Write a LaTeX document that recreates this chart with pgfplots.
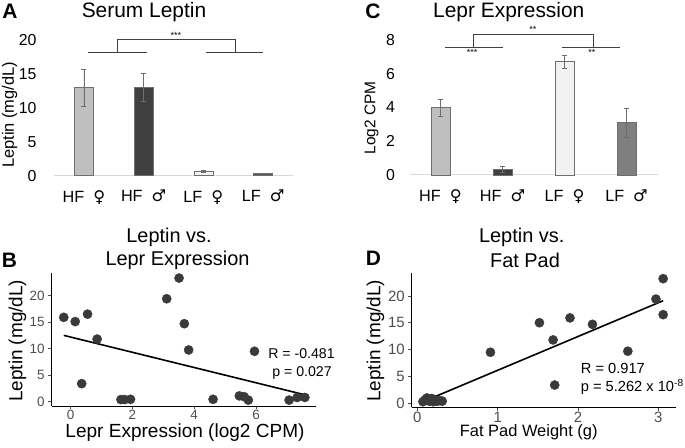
\documentclass[border=0pt]{standalone}
\usepackage{fontspec}
\setmainfont{Liberation Sans}
\newfontfamily\sym{DejaVu Sans}
\usepackage{pgfplots}
\pgfplotsset{compat=1.18}
\definecolor{c1}{HTML}{BFBFBF}
\definecolor{c2}{HTML}{404040}
\definecolor{c3}{HTML}{F2F2F2}
\definecolor{c4a}{HTML}{595959}
\definecolor{c4c}{HTML}{7F7F7F}
\definecolor{edge}{HTML}{6E6E6E}
\definecolor{ptc}{HTML}{3A3A3A}
\definecolor{tickgray}{HTML}{4D4D4D}
\definecolor{brk}{HTML}{404040}
\newcommand{\fs}[1]{\fontsize{#1}{#1}\selectfont}
\newcommand{\F}{\hspace{9bp}{\sym ♀}}
\newcommand{\M}{\hspace{9bp}{\sym ♂}}
\pgfplotsset{
  barax/.style={scale only axis, anchor=south west, xmin=0.5, xmax=4.5, ymin=0, clip=false,
    axis line style={draw=none}, major tick length=0pt, xtick={1,2,3,4},
    xticklabels={HF\F, HF\M, LF\F, LF\M},
    /pgf/number format/assume math mode=true,
    xticklabel style={font=\fs{16.3}, yshift=-11bp},
    yticklabel style={font=\fs{15.9}},
  },
  scat/.style={scale only axis, anchor=south west, axis x line*=bottom, axis y line*=left,
    axis line style={-, black, line width=0.8bp}, tick align=outside, major tick length=3.5bp,
    tick style={tickgray, line width=0.7bp}, ytick={0,5,10,15,20},
    /pgf/number format/assume math mode=true,
    tick label style={text=tickgray},
    xticklabel style={yshift=2.5bp},
  },
  mybar/.style={ybar, bar width=19bp, bar shift=0pt, fill=#1, draw=edge, line width=0.6bp,
    error bars/.cd, y dir=both, y explicit,
    error bar style={edge, line width=0.6bp},
    error mark options={rotate=90, mark size=2.6bp, edge, line width=0.6bp}},
}
\begin{document}
\begin{tikzpicture}[x=1bp,y=1bp]
\useasboundingbox (0,0) rectangle (685,448);
% ---------------- Panel A
\begin{axis}[barax, at={(54bp,272.3bp)}, width=239bp, height=149.2bp, ymax=22,
  ytick={0,5,10,15,20}, yticklabel style={xshift=-14bp}]
\draw[gray!30, line width=1bp] (axis cs:0.5,0) -- (axis cs:4.5,0);
\addplot[mybar=c1] coordinates {(1,13.0) +- (0,2.7)};
\addplot[mybar=c2] coordinates {(2,13.0) +- (0,2.1)};
\addplot[mybar=c3] coordinates {(3,0.65) +- (0,0.12)};
\addplot[mybar=c4a] coordinates {(4,0.35) +- (0,0.06)};
\draw[brk, line width=0.8bp] (axis cs:1.07,18.2) -- (axis cs:2.06,18.2);
\draw[brk, line width=0.8bp] (axis cs:3.04,18.2) -- (axis cs:4.0,18.2);
\draw[brk, line width=0.8bp] (axis cs:1.554,18.2) -- (axis cs:1.554,20.1) -- (axis cs:3.53,20.1) -- (axis cs:3.53,18.2);
\node[anchor=south, inner sep=1bp, font=\fs{9}] at (axis cs:2.54,20.1) {***};
\end{axis}
\node[font=\bfseries\fs{21}] at (10,437) {A};
\node[font=\fs{21}] at (144,435.5) {Serum Leptin};
\node[rotate=90, font=\fs{16.5}] at (9.5,333) {Leptin (mg/dL)};
% ---------------- Panel C
\begin{axis}[barax, at={(409.5bp,273bp)}, width=248bp, height=152.1bp, ymax=9,
  ytick={0,2,4,6,8}, yticklabel style={xshift=-11bp}]
\draw[gray!30, line width=1bp] (axis cs:0.5,0) -- (axis cs:4.5,0);
\addplot[mybar=c1] coordinates {(1,4.0) +- (0,0.5)};
\addplot[mybar=c2] coordinates {(2,0.34) +- (0,0.19)};
\addplot[mybar=c3] coordinates {(3,6.7) +- (0,0.4)};
\addplot[mybar=c4c] coordinates {(4,3.1) +- (0,0.87)};
\draw[brk, line width=0.8bp] (axis cs:1.07,7.55) -- (axis cs:2.01,7.55);
\draw[brk, line width=0.8bp] (axis cs:2.96,7.55) -- (axis cs:3.90,7.55);
\draw[brk, line width=0.8bp] (axis cs:1.524,7.55) -- (axis cs:1.524,8.34) -- (axis cs:3.46,8.34) -- (axis cs:3.46,7.55);
\node[anchor=south, inner sep=1bp, font=\fs{9}] at (axis cs:2.49,8.34) {**};
\node[anchor=north, inner sep=1.5bp, font=\fs{9}] at (axis cs:1.51,7.55) {***};
\node[anchor=north, inner sep=1.5bp, font=\fs{9}] at (axis cs:3.44,7.55) {**};
\end{axis}
\node[font=\bfseries\fs{21}] at (373,437) {C};
\node[font=\fs{21}] at (508.8,435.5) {Lepr Expression};
\node[rotate=90, font=\fs{15.5}] at (371.5,330) {Log2 CPM};
% ---------------- Panel B
\begin{axis}[scat, at={(51.7bp,42bp)}, width=264.3bp, height=132.7bp,
  xmin=-0.61, xmax=7.94, ymin=-0.81, ymax=24.2, xtick={0,2,4,6},
  tick label style={font=\fs{13.5}}]
\addplot[only marks, mark=*, mark size=4.6bp, mark options={fill=ptc, draw=ptc}] coordinates {
(-0.22,15.9) (0.15,15.1) (0.55,16.5) (0.86,11.8) (0.36,3.4) (1.63,0.4) (1.75,0.4) (1.94,0.45)
(3.11,19.4) (3.51,23.3) (3.68,14.7) (3.82,9.75) (4.61,0.45) (5.46,1.1) (5.61,0.95) (5.75,0.3)
(5.95,9.5) (7.07,0.3) (7.33,0.8) (7.58,0.8)};
\addplot[black, line width=1.6bp] coordinates {(-0.22,12.5) (7.58,1.3)};
\end{axis}
\node[font=\bfseries\fs{21}] at (9.5,188) {B};
\node[font=\fs{20}] at (169,210.5) {Leptin vs.};
\node[font=\fs{20}] at (177.5,188) {Lepr Expression};
\node[rotate=90, font=\fs{19}] at (17.5,107.2) {Leptin (mg/dL)};
\node[font=\fs{19.1}] at (185,15.3) {Lepr Expression (log2 CPM)};
\node[font=\fs{14.2}] at (301.5,94.7) {R = -0.481};
\node[font=\fs{14.2}] at (302,75.3) {p = 0.027};
% ---------------- Panel D
\begin{axis}[scat, at={(411.7bp,40.7bp)}, width=264.3bp, height=134bp,
  xmin=-0.07, xmax=3.22, ymin=-0.74, ymax=24.2, xtick={0,1,2,3},
  tick label style={font=\fs{15}}]
\addplot[only marks, mark=*, mark size=4.6bp, mark options={fill=ptc, draw=ptc}] coordinates {
(0.91,9.5) (1.52,15.0) (1.69,11.8) (1.71,3.4) (1.90,15.9) (2.18,14.7) (2.62,9.7) (2.97,19.4)
(3.06,23.2) (3.06,16.5)
(0.07,0.3) (0.10,0.7) (0.12,1.0) (0.15,0.4) (0.18,0.9) (0.20,0.3) (0.22,0.6) (0.25,0.4) (0.28,0.5) (0.31,0.4)};
\addplot[black, line width=1.6bp] coordinates {(0.07,0.3) (3.06,19.1)};
\end{axis}
\node[font=\bfseries\fs{21}] at (373.5,190) {D};
\node[font=\fs{20}] at (521.7,210.5) {Leptin vs.};
\node[font=\fs{20}] at (525,188) {Fat Pad};
\node[rotate=90, font=\fs{19}] at (375.5,107.2) {Leptin (mg/dL)};
\node[font=\fs{16.5}] at (528.7,15.3) {Fat Pad Weight (g)};
\node[anchor=west, inner sep=0pt, font=\fs{14.7}] at (580.7,79.7) {R = 0.917};
\node[anchor=west, inner sep=0pt, font=\fs{14.7}] at (580.7,60.7) {p = 5.262 x 10\textsuperscript{-8}};
\end{tikzpicture}
\end{document}
